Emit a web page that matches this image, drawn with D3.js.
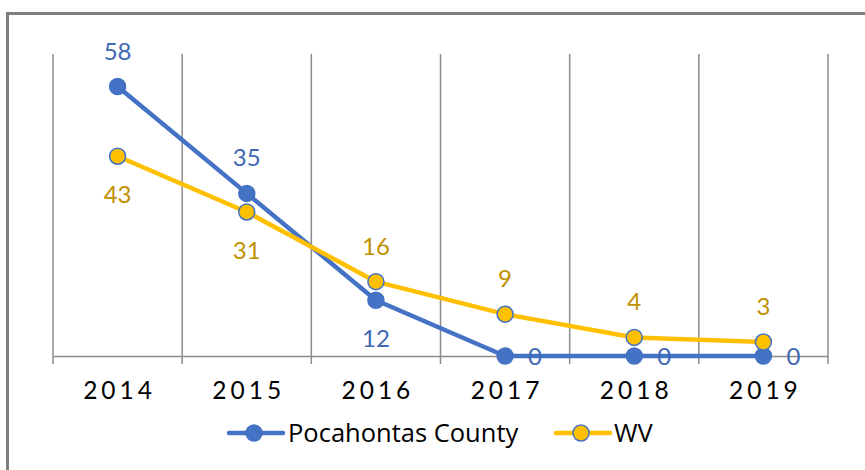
<!DOCTYPE html>
<html><head><meta charset="utf-8">
<script src="https://cdn.jsdelivr.net/npm/d3@7"></script>
<style>body{margin:0;background:#fff}svg{display:block;font-family:Lato,"Open Sans",sans-serif}</style>
</head><body><svg id="c" width="865" height="470"></svg>
<script>
const years = ["2014","2015","2016","2017","2018","2019"];
const pocahontas = [58,35,12,0,0,0];
const wv = [43,31,16,9,4,3];
const seriesNames = ["Pocahontas County","WV"];

const svg = d3.select("#c");
const W = 865, H = 470;
const blue = "#4472C4", gold = "#FFC000";

// outer border
svg.append("rect").attr("x",7.5).attr("y",13.5).attr("width",W+10).attr("height",H+10)
  .attr("fill","none").attr("stroke","#7f7f7f").attr("stroke-width",3);

const x = d3.scaleBand().domain(years).range([53,828]).padding(0);
const y = d3.scaleLinear().domain([0,65]).range([356,54]);
const cx = d => x(d) + x.bandwidth()/2;

// vertical gridlines at band edges
const edges = years.map(d=>x(d)).concat([x(years[years.length-1])+x.bandwidth()]);
svg.append("g").selectAll("line").data(edges).join("line")
  .attr("x1",d=>d).attr("x2",d=>d).attr("y1",y(65)).attr("y2",y(0)+8)
  .attr("stroke","#8c8c8c").attr("stroke-width",1.5);

// baseline axis
const ax = svg.append("g").attr("transform",`translate(0,${y(0)})`)
  .call(d3.axisBottom(x).tickSize(0).tickPadding(0));
ax.select(".domain").attr("stroke","#8c8c8c").attr("stroke-width",1.5);
ax.selectAll("text").attr("font-size",24.5).attr("fill","#000").attr("letter-spacing","4px")
  .attr("dy",0).attr("y",43).attr("font-family","Lato,'Open Sans',sans-serif")
  .attr("dx","2px");

const series = [
  {name:seriesNames[0], vals:pocahontas, other:wv, line:blue, fill:blue, labelColor:"#4068B5"},
  {name:seriesNames[1], vals:wv, other:pocahontas, line:gold, fill:gold, labelColor:"#BF9000"}
];
const line = d3.line().x(d=>cx(d.year)).y(d=>y(d.v));

series.forEach(s=>{
  const pts = years.map((yr,i)=>({year:yr,v:s.vals[i],o:s.other[i]}));
  s.pts = pts;
  svg.append("path").datum(pts).attr("d",line).attr("fill","none")
    .attr("stroke",s.line).attr("stroke-width",4.5).attr("stroke-linejoin","round");
});
series.forEach(s=>{
  svg.append("g").selectAll("circle").data(s.pts).join("circle")
    .attr("cx",d=>cx(d.year)).attr("cy",d=>y(d.v)).attr("r",8)
    .attr("fill",s.fill).attr("stroke",blue).attr("stroke-width",1.5);
});
// labels
series.forEach(s=>{
  svg.append("g").selectAll("text").data(s.pts).join("text")
    .attr("font-size",24).attr("fill",s.labelColor)
    .attr("text-anchor",d=>d.v===0?"start":"middle")
    .attr("x",d=>d.v===0?cx(d.year)+23:cx(d.year))
    .attr("y",d=>{
      if(d.v===0) return y(d.v)+9;
      return d.v>=d.o ? y(d.v)-27 : y(d.v)+47;
    })
    .text(d=>d.v);
});

// legend
const lg = svg.append("g");
const items = [{s:series[0],x0:229,tx:288},{s:series[1],x0:556,tx:614}];
items.forEach(it=>{
  lg.append("line").attr("x1",it.x0).attr("x2",it.x0+54).attr("y1",433).attr("y2",433)
    .attr("stroke",it.s.line).attr("stroke-width",4.5).attr("stroke-linecap","round");
  lg.append("circle").attr("cx",it.x0+25).attr("cy",433).attr("r",8)
    .attr("fill",it.s.fill).attr("stroke",blue).attr("stroke-width",1.5);
  lg.append("text").attr("x",it.tx).attr("y",442).attr("font-size",25.5)
    .attr("font-family","'Open Sans',Lato,sans-serif").attr("fill","#000")
    .text(it.s.name);
});
</script></body></html>
